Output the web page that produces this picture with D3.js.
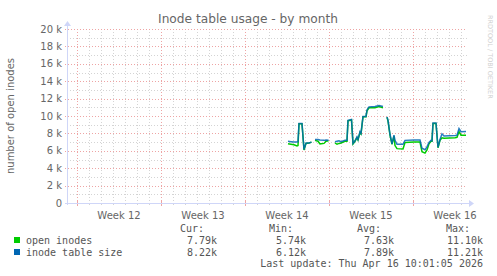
<!DOCTYPE html>
<html>
<head>
<meta charset="utf-8">
<script src="https://cdn.jsdelivr.net/npm/d3@7"></script>
<style>
  body { margin: 0; background: #ffffff; }
  svg { display: block; }
  text { font-family: "DejaVu Sans", sans-serif; }
  .mono { font-family: "DejaVu Sans Mono", monospace; }
</style>
</head>
<body>
<div id="chart"></div>
<script>
// ---- data ----
const times = [
  "04-01 14:00", "04-01 20:00", "04-02 02:00", "04-02 08:00", "04-02 10:00",
  "04-02 12:00", "04-02 18:00", "04-02 22:00", "04-03 02:00", "04-03 08:00",
  "04-03 13:00", "04-03 16:00",
  "04-03 20:00", "04-04 02:00", "04-04 06:00", "04-04 14:00", "04-04 18:00",
  "04-04 23:00", "04-05 04:00",
  "04-05 12:00", "04-05 16:00", "04-05 20:00", "04-06 00:00", "04-06 08:00",
  "04-06 12:00", "04-06 14:00", "04-06 21:00", "04-07 00:00", "04-07 04:00",
  "04-07 08:00", "04-07 10:00", "04-07 14:00", "04-07 16:00", "04-07 20:00",
  "04-08 02:00", "04-08 04:00", "04-08 08:00", "04-08 20:00", "04-09 04:00",
  "04-09 12:00", "04-09 16:00",
  "04-09 20:00", "04-09 22:00", "04-10 02:00", "04-10 06:00", "04-10 10:00",
  "04-10 12:00", "04-10 16:00", "04-11 04:00", "04-11 08:00", "04-12 02:00",
  "04-12 14:00", "04-12 18:00", "04-13 00:00", "04-13 04:00", "04-13 08:00",
  "04-13 12:00", "04-13 14:00", "04-13 16:00", "04-13 22:00", "04-14 02:00",
  "04-14 06:00", "04-14 10:00", "04-14 14:00", "04-15 12:00", "04-15 16:00",
  "04-15 20:00", "04-16 00:00", "04-16 10:00"
];
// null = no data (gap)
const openInodes = [
  6.80, 6.75, 6.70, 6.55, 6.60,
  9.10, 9.10, 6.10, 6.85, 6.90,
  7.00, null,
  7.20, 7.10, 6.80, 6.85, 7.10,
  7.15, null,
  6.90, 6.75, 6.85, 6.90, 7.10,
  7.10, 9.45, 9.55, 6.80, 7.10,
  7.50, 7.25, 8.10, 7.95, 9.90,
  9.90, 10.60, 10.95, 10.95, 11.10,
  10.95, null,
  9.85, 9.45, 7.80, 6.75, 7.70,
  6.60, 6.25, 6.20, 6.95, 7.00,
  7.00, 5.90, 5.74, 6.10, 6.80,
  7.10, 7.10, 9.15, 9.15, 6.35,
  7.20, 7.50, 7.45, 7.50, 7.55,
  8.20, 7.80, 7.79
];
const tableSize = [
  7.10, 7.05, 7.00, 7.00, 7.05,
  9.15, 9.15, 6.15, 6.90, 6.90,
  7.00, null,
  7.30, 7.30, 7.25, 7.20, 7.25,
  7.20, null,
  7.05, 7.10, 7.15, 7.05, 7.20,
  7.20, 9.50, 9.60, 6.85, 7.15,
  7.60, 7.30, 8.20, 8.00, 9.95,
  9.95, 10.70, 11.05, 11.10, 11.21,
  11.10, null,
  9.90, 9.50, 7.90, 6.80, 7.80,
  7.20, 6.75, 6.75, 7.20, 7.25,
  7.25, 6.30, 6.12, 6.45, 6.95,
  7.20, 7.15, 9.20, 9.20, 6.40,
  7.30, 7.95, 7.70, 7.75, 7.80,
  8.55, 8.20, 8.22
];
const weekLabels = ["Week 12", "Week 13", "Week 14", "Week 15", "Week 16"];
const yTicks = [0, 2, 4, 6, 8, 10, 12, 14, 16, 18, 20];
const seriesNames = ["open inodes", "inode table size"];
const seriesColors = ["#00cc00", "#0066b3"];
const statHeads = ["Cur:", "Min:", "Avg:", "Max:"];
const statOpen = ["7.79k", "5.74k", "7.63k", "11.10k"];
const statSize = ["8.22k", "6.12k", "7.89k", "11.21k"];
const lastUpdate = "Last update: Thu Apr 16 10:01:05 2026";

// ---- layout ----
const W = 497, H = 276;
const margin = {top: 29, right: 30, bottom: 73, left: 67};
const width = W - margin.left - margin.right;
const height = H - margin.top - margin.bottom;

const parse = d3.timeParse("%Y-%m-%d %H:%M");
const rows = times.map((t, i) => ({
  t: parse("2026-" + t),
  open: openInodes[i],
  size: tableSize[i]
}));

const svg = d3.select("#chart").append("svg")
  .attr("width", W)
  .attr("height", H);

const g = svg.append("g")
  .attr("transform", `translate(${margin.left},${margin.top})`);

const x = d3.scaleTime()
  .domain([parse("2026-03-14 04:00"), parse("2026-04-16 12:00")])
  .range([0, width]);

const y = d3.scaleLinear()
  .domain([0, 20])
  .range([height, 0]);

const minorCol = "#d4d4d4";
const majorCol = "#eea4a4";

// grid: minor
const days = d3.timeDay.range(x.domain()[0], x.domain()[1]);
const weeks = d3.timeSunday.range(x.domain()[0], x.domain()[1]);

g.selectAll(".vminor")
  .data(days)
  .join("line")
  .attr("x1", d => Math.round(x(d)) + 0.5)
  .attr("x2", d => Math.round(x(d)) + 0.5)
  .attr("y1", 0)
  .attr("y2", height)
  .attr("stroke", minorCol)
  .attr("stroke-dasharray", "1,2");

g.selectAll(".hminor")
  .data(d3.range(1, 20, 2))
  .join("line")
  .attr("x1", 0)
  .attr("x2", width)
  .attr("y1", d => Math.round(y(d)) + 0.5)
  .attr("y2", d => Math.round(y(d)) + 0.5)
  .attr("stroke", minorCol)
  .attr("stroke-dasharray", "1,2");

// grid: major
g.selectAll(".vmajor")
  .data(weeks)
  .join("line")
  .attr("x1", d => Math.round(x(d)) + 0.5)
  .attr("x2", d => Math.round(x(d)) + 0.5)
  .attr("y1", 0)
  .attr("y2", height + 2)
  .attr("stroke", majorCol)
  .attr("stroke-dasharray", "1,2");

g.selectAll(".hmajor")
  .data(yTicks.filter(d => d > 0))
  .join("line")
  .attr("x1", -2)
  .attr("x2", width)
  .attr("y1", d => Math.round(y(d)) + 0.5)
  .attr("y2", d => Math.round(y(d)) + 0.5)
  .attr("stroke", majorCol)
  .attr("stroke-dasharray", "1,2");

// small ticks under x axis
g.selectAll(".xtick")
  .data(days)
  .join("line")
  .attr("x1", d => Math.round(x(d)) + 0.5)
  .attr("x2", d => Math.round(x(d)) + 0.5)
  .attr("y1", height)
  .attr("y2", height + 2)
  .attr("stroke", minorCol);

g.selectAll(".xtickmaj")
  .data(weeks)
  .join("line")
  .attr("x1", d => Math.round(x(d)) + 0.5)
  .attr("x2", d => Math.round(x(d)) + 0.5)
  .attr("y1", height - 2)
  .attr("y2", height + 3)
  .attr("stroke", majorCol);

// axes (rrdtool style, light blue with arrows)
const axisCol = "#cfd6f8";
g.append("line")
  .attr("x1", 0.5).attr("x2", 0.5)
  .attr("y1", height + 2).attr("y2", -4)
  .attr("stroke", axisCol);
g.append("line")
  .attr("x1", -2).attr("x2", width + 3)
  .attr("y1", height + 0.5).attr("y2", height + 0.5)
  .attr("stroke", axisCol);
g.append("path")
  .attr("d", `M-3,-3 L4,-3 L0.5,-8 Z`)
  .attr("fill", axisCol);
g.append("path")
  .attr("d", `M${width + 2},${height - 3} L${width + 2},${height + 4} L${width + 7},${height + 0.5} Z`)
  .attr("fill", axisCol);

// y tick labels
g.selectAll(".ylab")
  .data(yTicks)
  .join("text")
  .attr("x", -5)
  .attr("y", d => y(d) + 3.5)
  .attr("text-anchor", "end")
  .attr("fill", "#666")
  .style("font-size", "10px")
  .text(d => d === 0 ? "0" : d + " k");

// week labels
g.selectAll(".wlab")
  .data(weeks)
  .join("text")
  .attr("x", d => x(d3.timeHour.offset(d, 84)))
  .attr("y", height + 16)
  .attr("text-anchor", "middle")
  .attr("fill", "#666")
  .style("font-size", "10px")
  .text((d, i) => weekLabels[i]);

// title and axis label
svg.append("text")
  .attr("x", 248)
  .attr("y", 23)
  .attr("text-anchor", "middle")
  .attr("fill", "#666")
  .style("font-size", "12.2px")
  .text("Inode table usage - by month");

svg.append("text")
  .attr("transform", `translate(14,${margin.top + height / 2}) rotate(-90)`)
  .attr("text-anchor", "middle")
  .attr("fill", "#666")
  .style("font-size", "10px")
  .text("number of open inodes");

svg.append("text")
  .attr("transform", "translate(488,15) rotate(90)")
  .attr("text-anchor", "start")
  .attr("fill", "#d0d0d0")
  .style("font-size", "6.5px")
  .text("RRDTOOL / TOBI OETIKER");

// series lines
const lineOpen = d3.line()
  .defined(d => d.open !== null)
  .x(d => x(d.t))
  .y(d => y(d.open));

const lineSize = d3.line()
  .defined(d => d.size !== null)
  .x(d => x(d.t))
  .y(d => y(d.size));

g.append("path")
  .datum(rows)
  .attr("d", lineOpen)
  .attr("fill", "none")
  .attr("stroke", seriesColors[0])
  .attr("stroke-width", 1.5);

g.append("path")
  .datum(rows)
  .attr("d", lineSize)
  .attr("fill", "none")
  .attr("stroke", seriesColors[1])
  .attr("stroke-opacity", 0.85)
  .attr("stroke-width", 1.5);

// legend
const legend = svg.append("g").attr("class", "mono");
const colEnds = [204, 293, 381, 470];
const valEnds = [217, 306, 394, 483];

legend.selectAll(".head")
  .data(statHeads)
  .join("text")
  .attr("class", "mono")
  .attr("x", (d, i) => colEnds[i])
  .attr("y", 232)
  .attr("text-anchor", "end")
  .attr("fill", "#555")
  .style("font-size", "10px")
  .text(d => d);

[statOpen, statSize].forEach((vals, r) => {
  const yy = 244 + r * 12;
  legend.append("rect")
    .attr("x", 14)
    .attr("y", yy - 7)
    .attr("width", 6)
    .attr("height", 6)
    .attr("fill", seriesColors[r]);
  legend.append("text")
    .attr("class", "mono")
    .attr("x", 26)
    .attr("y", yy)
    .attr("fill", "#555")
    .style("font-size", "10px")
    .text(seriesNames[r]);
  legend.selectAll(".v" + r)
    .data(vals)
    .join("text")
    .attr("class", "mono")
    .attr("x", (d, i) => valEnds[i])
    .attr("y", yy)
    .attr("text-anchor", "end")
    .attr("fill", "#555")
    .style("font-size", "10px")
    .text(d => d);
});

legend.append("text")
  .attr("class", "mono")
  .attr("x", 483)
  .attr("y", 267)
  .attr("text-anchor", "end")
  .attr("fill", "#555")
  .style("font-size", "10px")
  .text(lastUpdate);
</script>
</body>
</html>
